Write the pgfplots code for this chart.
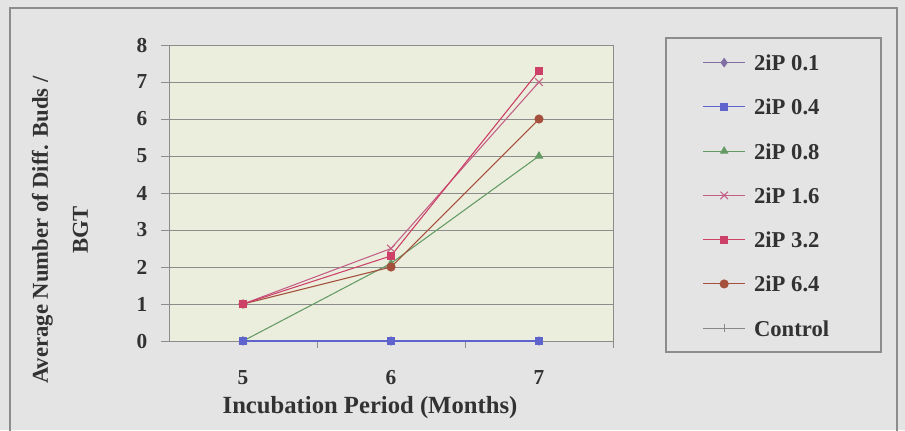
\documentclass[border=0pt]{standalone}
\usepackage{pgfplots}
\pgfplotsset{compat=1.18}
\usepackage{fontspec}
\setmainfont{Liberation Serif}
\definecolor{plotbg}{RGB}{236,238,221}
\definecolor{outerbg}{RGB}{228,228,228}
\definecolor{framec}{RGB}{140,140,140}
\definecolor{gridc}{RGB}{140,140,140}
\definecolor{txt}{RGB}{50,50,50}
\definecolor{c01}{RGB}{128,110,165}
\definecolor{c04}{RGB}{95,100,205}
\definecolor{c08}{RGB}{100,155,100}
\definecolor{c16}{RGB}{195,95,135}
\definecolor{c32}{RGB}{205,65,105}
\definecolor{c64}{RGB}{165,80,60}
\definecolor{cctl}{RGB}{135,135,135}
\begin{document}
\begin{tikzpicture}
\useasboundingbox (0,0) rectangle (678.75pt,-322.5pt);
\fill[outerbg] (0,0) rectangle (678.75pt,-322.5pt);
\draw[framec, line width=0.8pt] (7.5pt,-6pt) rectangle (672.75pt,-340pt);
\draw[framec, line width=0.8pt, fill=outerbg] (499.5pt,-28.5pt) rectangle (660.75pt,-264pt);
\begin{axis}[
  at={(126.75pt,-255.75pt)}, anchor=south west,
  scale only axis, width=333pt, height=222pt,
  xmin=4.5, xmax=7.5, ymin=0, ymax=8,
  xtick={5,6,7},
  x tick style={draw=none},
  extra x ticks={5.5,6.5,7.5},
  extra x tick labels={},
  extra x tick style={x tick style={draw=gridc, line width=0.6pt}, major tick length=5pt, tick align=outside, xmajorgrids=false},
  ytick={0,1,...,8},
  ytick pos=left, xtick pos=bottom,
  tick align=outside, major tick length=6pt,
  y tick style={draw=gridc, line width=0.6pt},
  ymajorgrids, grid style={gridc, line width=0.6pt},
  axis line style={gridc, line width=0.7pt},
  axis background/.style={fill=plotbg},
  /pgf/number format/assume math mode=true,
  tick label style={font=\fontsize{16}{16}\selectfont\bfseries, text=txt},
  yticklabel style={anchor=east, inner sep=0pt, xshift=-10pt},
  xticklabel style={anchor=north, inner sep=0pt, yshift=-16pt},
  xlabel={Incubation Period (Months)},
  xlabel style={at={(axis description cs:0.4527,-0.2264)}, anchor=center, font=\fontsize{18.5}{18.5}\selectfont\bfseries, text=txt},
  ylabel={Average Number of Diff. Buds /\\BGT},
  ylabel style={at={(axis description cs:-0.2455,0.375)}, anchor=center, align=center, font=\fontsize{17}{30}\selectfont\bfseries, text=txt},
  legend style={at={(axis description cs:1.2005,0.9685)}, anchor=north west, draw=none, fill=none, inner sep=0pt, row sep=21.2pt, column sep=6pt, font=\fontsize{17}{17}\selectfont\bfseries, text=txt, nodes={inner sep=0pt, text height=12pt, text depth=0pt}},
  legend cell align=left,
  legend image code/.code={\draw[mark repeat=2,mark phase=2] plot coordinates {(0pt,0pt) (16pt,0pt) (32pt,0pt)};},
  every axis plot/.append style={line width=0.8pt, mark size=3pt},
]
\addlegendimage{c01, mark=diamond*, mark options={fill=c01}}
\addlegendentry{2iP 0.1}
\addlegendimage{c04, mark=square*, mark size=2.6pt, mark options={fill=c04}}
\addlegendentry{2iP 0.4}
\addlegendimage{c08, mark=triangle*, mark options={fill=c08}}
\addlegendentry{2iP 0.8}
\addlegendimage{c16, mark=x, mark size=4pt}
\addlegendentry{2iP 1.6}
\addlegendimage{c32, mark=square*, mark size=2.6pt, mark options={fill=c32}}
\addlegendentry{2iP 3.2}
\addlegendimage{c64, mark=*, mark options={fill=c64}}
\addlegendentry{2iP 6.4}
\addlegendimage{cctl, mark=+}
\addlegendentry{Control}
\addplot[forget plot, cctl, mark=+] coordinates {(5,0) (6,0) (7,0)};
\addplot[forget plot, c01, mark=diamond*, mark options={fill=c01}] coordinates {(5,0) (6,0) (7,0)};
\addplot[forget plot, c08, mark=triangle*, mark options={fill=c08}] coordinates {(5,0) (6,2.1) (7,5)};
\addplot[forget plot, c04, mark=square*, mark size=2.6pt, mark options={fill=c04}] coordinates {(5,0) (6,0) (7,0)};
\addplot[forget plot, c64, mark=*, mark options={fill=c64}] coordinates {(5,1) (6,2) (7,6)};
\addplot[forget plot, c16, mark=x, mark size=4pt] coordinates {(5,1) (6,2.5) (7,7)};
\addplot[forget plot, c32, mark=square*, mark size=2.6pt, mark options={fill=c32}] coordinates {(5,1) (6,2.3) (7,7.3)};
\end{axis}
\end{tikzpicture}
\end{document}
